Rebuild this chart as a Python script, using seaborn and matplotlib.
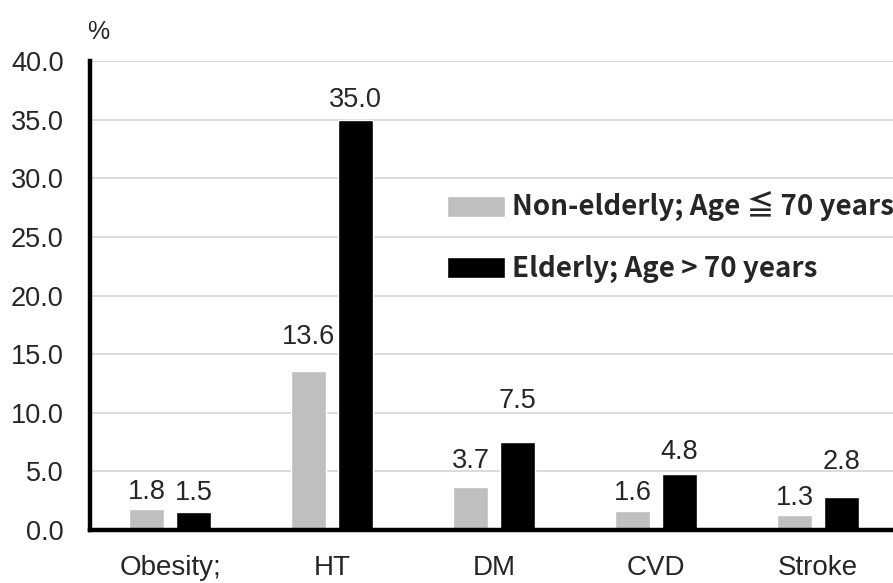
import matplotlib
matplotlib.use("Agg")
import matplotlib.pyplot as plt
import pandas as pd
import seaborn as sns

# ============================
# DATA
# ============================
categories = ["Obesity;", "HT", "DM", "CVD", "Stroke"]
non_elderly = [1.8, 13.6, 3.7, 1.6, 1.3]
elderly = [1.5, 35.0, 7.5, 4.8, 2.8]
groups = ["Non-elderly; Age \u2266 70 years", "Elderly; Age > 70 years"]
y_ticks = [0, 5, 10, 15, 20, 25, 30, 35, 40]

# label gap above bar top (px), as placed in the original figure
gap_non = [10, 27, 19, 11, 10]
gap_eld = [12, 13, 34, 15, 28]

df = pd.DataFrame({
    "category": categories * 2,
    "value": non_elderly + elderly,
    "group": [groups[0]] * len(categories) + [groups[1]] * len(categories),
})

# ============================
# PLOT
# ============================
sns.set_style("white")
plt.rcParams["font.family"] = ["Liberation Sans", "DejaVu Sans"]

fig = plt.figure(figsize=(8.93, 5.83), dpi=100)
ax = fig.add_axes([90 / 893, 53 / 583, 1 - 90 / 893, (530 - 61) / 583])

sns.barplot(
    data=df, x="category", y="value", hue="group",
    palette=["#bfbfbf", "#000000"], width=0.58, gap=0.24,
    saturation=1, ax=ax, legend=True, zorder=3,
)

ax.set_ylim(0, 40)
ax.set_xlim(-0.494, 4.463)
ax.set_yticks(y_ticks)
ax.set_yticklabels([f"{v:.1f}" for v in y_ticks])
ax.set_xlabel("")
ax.set_ylabel("")
ax.tick_params(axis="y", length=0, pad=19, labelsize=19.5)
ax.tick_params(axis="x", length=0, pad=18, labelsize=20)

ax.yaxis.grid(True, color="#d9d9d9", linewidth=1.3, zorder=0)
ax.set_axisbelow(True)
sns.despine(ax=ax, top=True, right=True)
for side in ["left", "bottom"]:
    ax.spines[side].set_linewidth(3.2)
    ax.spines[side].set_color("black")
    ax.spines[side].set_zorder(4)

# value labels
for cont, vals, gaps in zip(ax.containers, [non_elderly, elderly], [gap_non, gap_eld]):
    for bar, v, g in zip(cont, vals, gaps):
        ax.annotate(
            f"{v:.1f}",
            (bar.get_x() + bar.get_width() / 2, bar.get_height()),
            xytext=(0, g * 72 / 100), textcoords="offset points",
            ha="center", va="baseline", fontsize=19.5,
        )

# legend
handles, labels = ax.get_legend_handles_labels()
ax.legend(
    handles, labels,
    loc="upper left", bbox_to_anchor=(447 / 893, 1 - 192 / 583),
    bbox_transform=fig.transFigure,
    frameon=False, borderpad=0, borderaxespad=0,
    handlelength=2.1, handleheight=0.8, handletextpad=0.25,
    labelspacing=1.2,
    prop=dict(family=["Noto Sans CJK JP", "DejaVu Sans"], weight="bold", size=20),
)

fig.text(87 / 893, 1 - 32 / 583, "%", fontsize=18, va="center", ha="left")

fig.savefig("out.png", dpi=100)
plt.close(fig)
